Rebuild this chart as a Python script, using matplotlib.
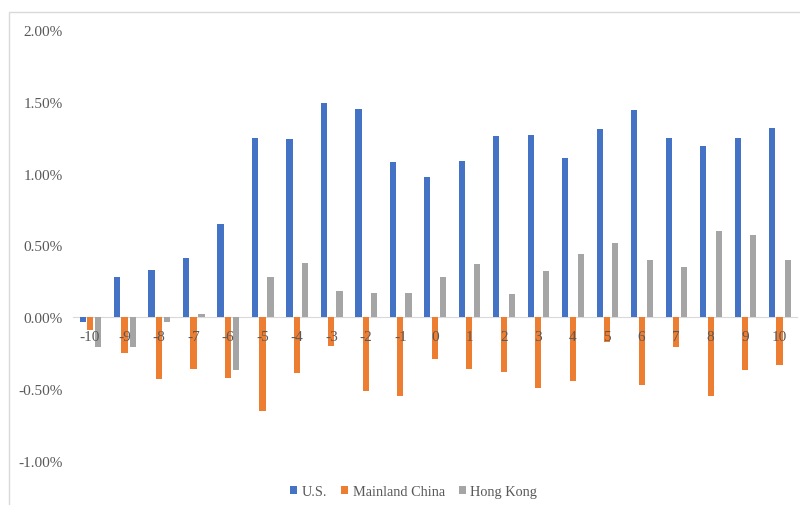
import matplotlib
matplotlib.use("Agg")
import matplotlib.pyplot as plt
from matplotlib.patches import Rectangle
from matplotlib.ticker import FuncFormatter
import numpy as np

# event-window days and mean returns (%) per market
days = list(range(-10, 11))
us = [-0.035, 0.28, 0.33, 0.41, 0.65, 1.25, 1.24, 1.49, 1.45, 1.08, 0.98,
      1.09, 1.26, 1.27, 1.11, 1.31, 1.44, 1.25, 1.19, 1.25, 1.32]
mainland = [-0.09, -0.25, -0.43, -0.36, -0.42, -0.65, -0.39, -0.20, -0.51, -0.55, -0.29,
            -0.36, -0.38, -0.49, -0.44, -0.17, -0.47, -0.21, -0.55, -0.37, -0.33]
hong_kong = [-0.21, -0.21, -0.035, 0.025, -0.37, 0.28, 0.38, 0.18, 0.17, 0.17, 0.28,
             0.37, 0.16, 0.32, 0.44, 0.52, 0.40, 0.35, 0.60, 0.57, 0.40]

series = [("U.S.", us, "#4472c4"),
          ("Mainland China", mainland, "#ed7d31"),
          ("Hong Kong", hong_kong, "#a5a5a5")]

plt.rcParams["font.family"] = ["Liberation Serif", "DejaVu Serif"]
text_color = "#595959"

fig = plt.figure(figsize=(8, 5.06), dpi=100)
ax = fig.add_axes([0.091, 0.087, 0.905, 0.8517])

x = np.arange(len(days))
offsets = [-0.215, 0.0, 0.235]
width = 0.18
for (name, vals, color), off in zip(series, offsets):
    ax.bar(x + off, vals, width, color=color, label=name, zorder=1)

ax.set_xlim(-0.5, len(days) - 0.5)
ax.set_ylim(-1.0, 2.0)
ax.set_yticks(np.arange(-1.0, 2.01, 0.5))
ax.yaxis.set_major_formatter(FuncFormatter(lambda v, p: f"{v:.2f}%"))
ax.set_xticks(x)
ax.set_xticklabels([str(d) for d in days])

for s in ["top", "right", "left"]:
    ax.spines[s].set_visible(False)
ax.spines["bottom"].set_position(("data", 0))
ax.spines["bottom"].set_color("#d9d9d9")
ax.spines["bottom"].set_zorder(0.5)

ax.tick_params(axis="x", length=0, pad=9, labelsize=11, labelcolor=text_color)
ax.tick_params(axis="y", length=0, pad=7, labelsize=11, labelcolor=text_color)

fig.legend(loc="center", bbox_to_anchor=(0.517, 0.027), ncol=3, frameon=False,
           fontsize=10.3, handlelength=0.5, handleheight=0.5, handletextpad=0.3,
           columnspacing=1.0, labelcolor=text_color)

# outer chart border
fig.add_artist(Rectangle((9 / 800, -0.05), 1.0, 0.9737 + 0.05,
                         transform=fig.transFigure, fill=False,
                         edgecolor="#d9d9d9", linewidth=1))

fig.savefig("out.png", dpi=100)
